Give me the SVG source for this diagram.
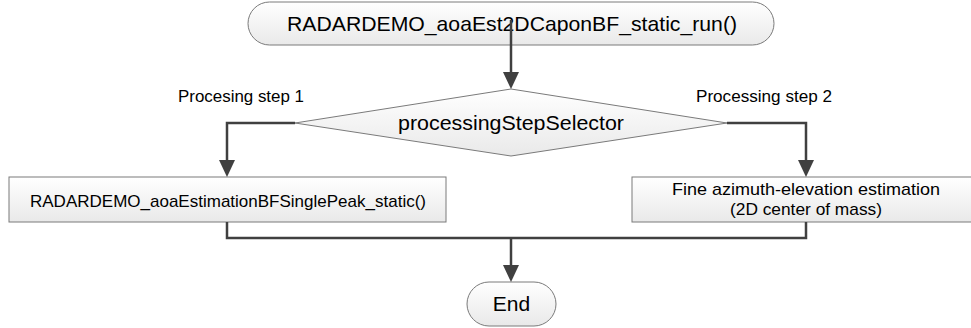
<svg xmlns="http://www.w3.org/2000/svg" width="971" height="328" viewBox="0 0 971 328">
  <defs>
    <linearGradient id="shade" x1="0" y1="0" x2="0" y2="1">
      <stop offset="0" stop-color="#ffffff"/>
      <stop offset="1" stop-color="#e9e9e9"/>
    </linearGradient>
    <marker id="arrow" viewBox="0 0 17 16" markerWidth="17" markerHeight="16" refX="0" refY="8" orient="auto" markerUnits="userSpaceOnUse">
      <path d="M0,0 L17,8 L0,16 Z" fill="#404040"/>
    </marker>
  </defs>
  <style>
    .shape { fill: url(#shade); stroke: #7a7a7a; stroke-width: 1; }
    .txt { font-family: "Liberation Sans", Arial, sans-serif; fill: #000; text-anchor: middle; }
    .lbl { font-family: "Liberation Sans", Arial, sans-serif; fill: #000; font-size: 17px; }
    .conn { fill: none; stroke: #404040; stroke-width: 2.5; }
  </style>

  <rect width="971" height="328" fill="#ffffff"/>

  <!-- start terminator -->
  <g id="start">
    <rect class="shape" x="248" y="2" width="526" height="43" rx="21.5" ry="21.5"/>
    <text class="txt" x="512" y="31" font-size="21" textLength="450" lengthAdjust="spacingAndGlyphs">RADARDEMO_aoaEst2DCaponBF_static_run()</text>
  </g>

  <!-- decision -->
  <g id="selector">
    <polygon class="shape" points="511,89 727,123 511,156 295,123"/>
    <text class="txt" x="511" y="130" font-size="21" textLength="226" lengthAdjust="spacingAndGlyphs">processingStepSelector</text>
  </g>

  <!-- branch 1 -->
  <g id="single-peak">
    <rect class="shape" x="9" y="177" width="437" height="45"/>
    <text class="txt" x="228" y="207" font-size="17" textLength="396" lengthAdjust="spacingAndGlyphs">RADARDEMO_aoaEstimationBFSinglePeak_static()</text>
  </g>

  <!-- branch 2 -->
  <g id="center-of-mass">
    <rect class="shape" x="632" y="177" width="348" height="45"/>
    <text class="txt" x="806" y="195" font-size="17" textLength="268" lengthAdjust="spacingAndGlyphs">Fine azimuth-elevation estimation</text>
    <text class="txt" x="806" y="215" font-size="17" textLength="152" lengthAdjust="spacingAndGlyphs">(2D center of mass)</text>
  </g>

  <!-- end terminator -->
  <g id="end">
    <rect class="shape" x="467" y="282" width="89" height="44" rx="22" ry="22"/>
    <text class="txt" x="511.5" y="311" font-size="21">End</text>
  </g>

  <!-- branch labels -->
  <g id="labels">
    <text class="lbl" x="178" y="102" textLength="126" lengthAdjust="spacingAndGlyphs">Procesing step 1</text>
    <text class="lbl" x="696" y="102" textLength="136" lengthAdjust="spacingAndGlyphs">Processing step 2</text>
  </g>

  <!-- connectors -->
  <g id="connectors">
    <path class="conn" d="M511,20 V72" marker-end="url(#arrow)"/>
    <path class="conn" d="M295,123 H227 V160" marker-end="url(#arrow)"/>
    <path class="conn" d="M727,123 H806 V160" marker-end="url(#arrow)"/>
    <path class="conn" d="M227,222 V238 H806 V222"/>
    <path class="conn" d="M511,238 V265" marker-end="url(#arrow)"/>
  </g>
</svg>
